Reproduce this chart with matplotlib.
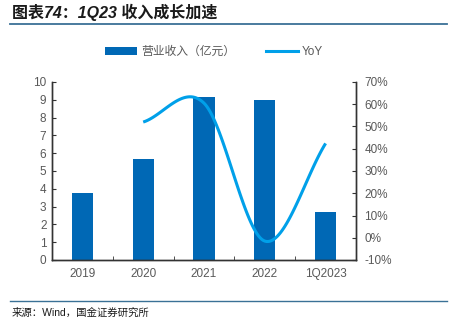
import numpy as np
import matplotlib
matplotlib.use("Agg")
import matplotlib.pyplot as plt
from matplotlib.lines import Line2D
from matplotlib.patches import Patch

plt.rcParams['font.family'] = ['Liberation Sans', 'Noto Sans CJK SC', 'DejaVu Sans']

categories = ["2019", "2020", "2021", "2022", "1Q2023"]
revenue = [3.78, 5.67, 9.14, 9.0, 2.70]          # 营业收入（亿元）
yoy_years = ["2020", "2021", "2022", "1Q2023"]
yoy = [52.0, 60.5, -1.5, 42.4]                    # YoY (%)

bar_color = "#0068B5"
line_color = "#00A0E9"
text_gray = "#595959"
rule_color = "#3A7196"


def catmull_rom(x, y, n=40):
    """Smooth curve through the points (Catmull-Rom spline)."""
    x = np.asarray(x, float)
    y = np.asarray(y, float)
    px = np.concatenate([[2 * x[0] - x[1]], x, [2 * x[-1] - x[-2]]])
    py = np.concatenate([[2 * y[0] - y[1]], y, [2 * y[-1] - y[-2]]])
    xs, ys = [], []
    for i in range(1, len(px) - 2):
        t = np.linspace(0, 1, n)
        for p, out in ((px, xs), (py, ys)):
            p0, p1, p2, p3 = p[i - 1], p[i], p[i + 1], p[i + 2]
            out.append(0.5 * ((2 * p1) + (-p0 + p2) * t
                              + (2 * p0 - 5 * p1 + 4 * p2 - p3) * t ** 2
                              + (-p0 + 3 * p1 - 3 * p2 + p3) * t ** 3))
    return np.concatenate(xs), np.concatenate(ys)


fig = plt.figure(figsize=(4.51, 3.23), dpi=100)
ax = fig.add_axes([52 / 451, 1 - 260 / 323, (356 - 52) / 451, (260 - 82) / 323])
ax2 = ax.twinx()

x = np.arange(len(categories))
ax.bar(x, revenue, width=0.35, color=bar_color, zorder=2)
ax.set_xlim(-0.5, len(categories) - 0.5)
ax.set_ylim(0, 10)
ax.set_yticks(range(0, 11))
ax.set_xticks(x)
ax.set_xticklabels(categories)
ax.set_xticks(np.arange(len(categories) + 1) - 0.5, minor=True)
ax.tick_params(axis='x', which='major', length=0, pad=6, colors=text_gray, labelsize=8.5)
ax.tick_params(axis='x', which='minor', direction='in', length=3, color='#333333')
ax.tick_params(axis='y', direction='in', length=3, color='#333333',
               labelcolor=text_gray, labelsize=8.5, pad=4)

yx = np.array([categories.index(c) for c in yoy_years])
sx, sy = catmull_rom(yx, yoy)
ax2.plot(sx, sy, color=line_color, lw=2.2, solid_capstyle='butt', zorder=3)
ax2.set_ylim(-10, 70)
ax2.set_yticks(range(-10, 71, 10))
ax2.set_yticklabels([f"{v}%" for v in range(-10, 71, 10)])
ax2.tick_params(axis='y', direction='in', length=3, color='#333333',
                labelcolor=text_gray, labelsize=8.5, pad=6)

for a in (ax, ax2):
    a.spines['top'].set_visible(False)
    for s in ('left', 'right', 'bottom'):
        a.spines[s].set_color('#333333')
        a.spines[s].set_linewidth(1.0)
    a.set_facecolor('none')

handles = [Patch(facecolor=bar_color, edgecolor='none'),
           Line2D([], [], color=line_color, lw=2.2)]
fig.legend(handles, ["营业收入（亿元）", "YoY"], loc='center',
           bbox_to_anchor=(214 / 451, 1 - 52 / 323), ncol=2, frameon=False,
           fontsize=8.5, labelcolor=text_gray, handlelength=2.7,
           handleheight=0.7, columnspacing=2.6, handletextpad=0.35)

fig.text(12 / 451, 1 - 12 / 323, "图表74：1Q23 收入成长加速", fontsize=11.5,
         fontweight='bold', fontstyle='italic', color='#1a1a1a', va='center')
fig.add_artist(Line2D([10 / 451, 447 / 451], [1 - 24 / 323] * 2,
                      color=rule_color, lw=1.3))
fig.add_artist(Line2D([10 / 451, 447 / 451], [1 - 301 / 323] * 2,
                      color=rule_color, lw=1.0))
fig.text(12 / 451, 1 - 313 / 323, "来源：Wind，国金证券研究所", fontsize=7.5,
         color='#1a1a1a', va='center')

fig.savefig("out.png", dpi=100)
